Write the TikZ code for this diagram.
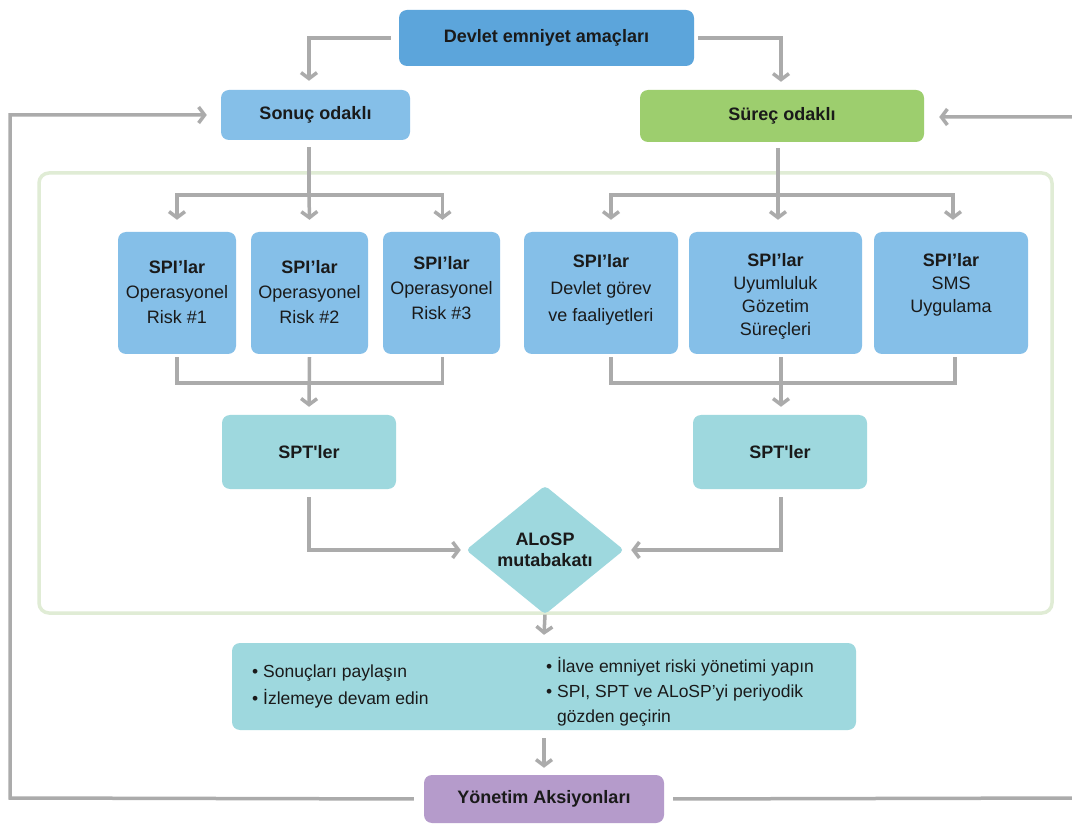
\documentclass[tikz,border=0pt]{standalone}
\usepackage{fontspec}
\setmainfont{Liberation Sans}[Ligatures=TeXOff]
\usetikzlibrary{arrows.meta,shapes.geometric}
\definecolor{cDev}{HTML}{5CA5DB}
\definecolor{cBlue}{HTML}{85BFE8}
\definecolor{cGreen}{HTML}{9DCE6E}
\definecolor{cTeal}{HTML}{9ED8DE}
\definecolor{cLav}{HTML}{B59BCB}
\definecolor{cArr}{HTML}{ABABAB}
\definecolor{cFrame}{HTML}{E0ECD5}
\definecolor{cTxt}{HTML}{1A1A1A}
\begin{document}
\begin{tikzpicture}[x=1pt,y=-1pt,
  every node/.style={inner sep=0pt,text=cTxt},
  boxbase/.style={rounded corners=8pt},
  boldlbl/.style={font=\fontsize{18}{21}\selectfont\bfseries,align=center},
  conn/.style={draw=cArr,line width=3.5pt},
  arr/.style={conn,-{Straight Barb[length=6pt,width=16pt]}},
  spi/.style={boxbase,fill=cBlue,minimum height=122pt},
  spitext/.style={align=center,font=\fontsize{18}{#1}\selectfont},
  bullettext/.style={align=left,anchor=west,font=\fontsize{17.5}{#1}\selectfont},
]
\useasboundingbox (0,0) rectangle (1072,826);
\fill[white] (0,0) rectangle (1072,826);

% green frame
\draw[draw=cFrame,line width=3.5pt,rounded corners=10pt] (39,173) rectangle (1052,613);

% top boxes
\node[boxbase,fill=cDev,minimum width=295pt,minimum height=56pt,boldlbl] (dev) at (546.5,38) {Devlet emniyet amaçları};
\node[boxbase,fill=cBlue,minimum width=189pt,minimum height=50pt,boldlbl] (son) at (315.5,115) {Sonuç odaklı};
\node[boxbase,fill=cGreen,minimum width=284pt,minimum height=52pt,boldlbl] (sur) at (782,116) {Süreç odaklı};

% SPI boxes
\node[spi,minimum width=118pt] (s1) at (177,293) {};
\node[spi,minimum width=117pt] (s2) at (309.5,293) {};
\node[spi,minimum width=117pt] (s3) at (441.5,293) {};
\node[spi,minimum width=154pt] (s4) at (601,293) {};
\node[spi,minimum width=173pt] (s5) at (775.5,293) {};
\node[spi,minimum width=154pt] (s6) at (951,293) {};

\node[spitext=25] (t1) at (177,292) {\textbf{SPI’lar}\\Operasyonel\\Risk \#1};
\node[spitext=25] (t2) at (309.5,292) {\textbf{SPI’lar}\\Operasyonel\\Risk \#2};
\node[spitext=25] (t3) at (441.5,288) {\textbf{SPI’lar}\\Operasyonel\\Risk \#3};
\node[spitext=27] (t4) at (601,290) {\textbf{SPI’lar}\\Devlet görev\\ve faaliyetleri};
\node[spitext=23] (t5) at (775.5,296) {\textbf{SPI’lar}\\Uyumluluk\\Gözetim\\Süreçleri};
\node[spitext=23] (t6) at (951,285) {\textbf{SPI’lar}\\SMS\\Uygulama};

% SPT boxes
\node[boxbase,fill=cTeal,minimum width=174pt,minimum height=74pt,boldlbl] (spt1) at (309,452) {SPT'ler};
\node[boxbase,fill=cTeal,minimum width=174pt,minimum height=74pt,boldlbl] (spt2) at (780,452) {SPT'ler};

% diamond
\node[diamond,fill=cTeal,rounded corners=4pt,minimum width=158pt,minimum height=105pt,boldlbl] (dia) at (545,550) {ALoSP\\mutabakatı};

% bullet box
\node[boxbase,fill=cTeal,minimum width=624pt,minimum height=87pt] (bul) at (544,686.5) {};
\node[bullettext=27] (bl) at (252,686.5) {• Sonuçları paylaşın\\• İzlemeye devam edin};
\node[bullettext=25] (br) at (546,692) {• İlave emniyet riski yönetimi yapın\\• SPI, SPT ve ALoSP’yi periyodik\\\hphantom{• }gözden geçirin};

% management actions
\node[boxbase,fill=cLav,minimum width=240pt,minimum height=48pt,boldlbl] (yon) at (544,799) {Yönetim Aksiyonları};

% coordinates for the feedback loops
\coordinate (lc1) at (10,798);
\coordinate (lc2) at (10,115);
\coordinate (rc1) at (1085,798);
\coordinate (rc2) at (1085,117);
\coordinate (lj) at (309,195);
\coordinate (rj) at (778,195);
\coordinate (lm) at (309,383);
\coordinate (rm) at (781,383);

% connectors: top
\draw[arr,shorten <=8pt] (dev.west) -| ([xshift=-6.5pt,yshift=9pt]son.north);
\draw[arr,shorten <=4pt] (dev.east) -| ([xshift=-1pt,yshift=8pt]sur.north);

% feedback loops
\draw[arr,shorten <=10pt] (yon.west) -- (lc1) -- (lc2) -- ([xshift=-14pt]son.west);
\draw[arr,shorten <=9pt] (yon.east) -- (rc1) -- (rc2) -- ([xshift=15pt,yshift=-1pt]sur.east);

% fan out left
\draw[conn] ([xshift=-6.5pt,yshift=-7pt]son.south) -- (lj);
\draw[arr] (lj) -| ([yshift=12pt]s1.north);
\draw[arr] (lj) -- ([yshift=12pt]s2.north);
\draw[arr] (lj) -| ([xshift=1pt,yshift=12pt]s3.north);

% fan out right
\draw[conn] ([xshift=-4pt,yshift=-6pt]sur.south) -- (rj);
\draw[arr] (rj) -| ([xshift=10pt,yshift=12pt]s4.north);
\draw[arr] (rj) -- ([xshift=2.5pt,yshift=12pt]s5.north);
\draw[arr] (rj) -| ([xshift=2pt,yshift=12pt]s6.north);

% merge left
\draw[conn] ([yshift=-3pt]s1.south) |- (lm);
\draw[conn] ([xshift=1pt,yshift=-3pt]s3.south) |- (lm);
\draw[arr] ([yshift=-3pt]s2.south) -- ([yshift=8pt]spt1.north);

% merge right
\draw[conn] ([xshift=10pt,yshift=-3pt]s4.south) |- (rm);
\draw[conn] ([xshift=4pt,yshift=-3pt]s6.south) |- (rm);
\draw[arr] ([xshift=5.5pt,yshift=-3pt]s5.south) -- ([xshift=1pt,yshift=8pt]spt2.north);

% SPT -> diamond
\draw[arr] ([yshift=-8pt]spt1.south) |- ([xshift=-5pt]dia.west);
\draw[arr] ([xshift=1pt,yshift=-8pt]spt2.south) |- ([xshift=7pt]dia.east);

% diamond -> bullets -> actions
\draw[arr] (dia.south) -- ([yshift=8pt]bul.north);
\draw[arr] ([yshift=-8pt]bul.south) -- ([yshift=7pt]yon.north);
\end{tikzpicture}
\end{document}
